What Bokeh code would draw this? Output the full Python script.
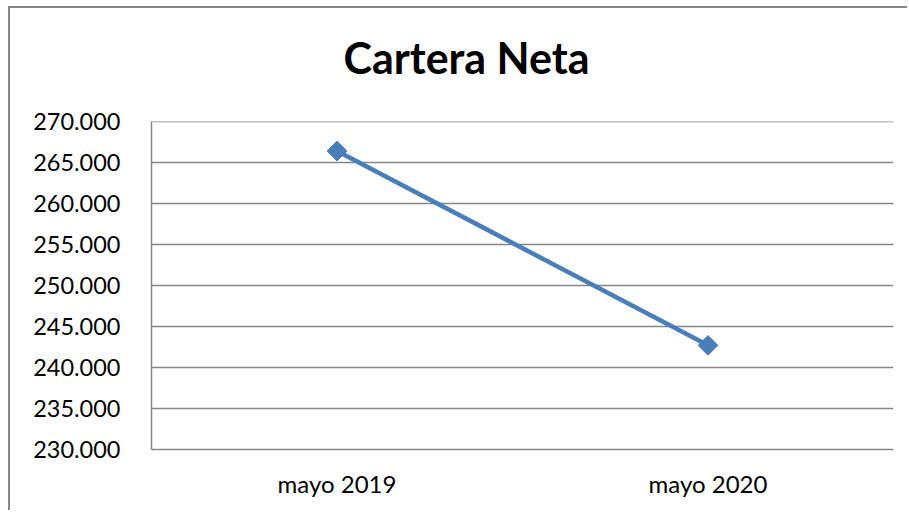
from bokeh.plotting import figure
from bokeh.embed import file_html
from bokeh.resources import INLINE
from bokeh.models import FactorRange, Range1d, FixedTicker, ColumnDataSource, Span, Title
import math

categories = ["mayo 2019", "mayo 2020"]
values = [266400, 242700]
y_ticks = [230000, 235000, 240000, 245000, 250000, 255000, 260000, 265000, 270000]
y_tick_labels = ["230.000", "235.000", "240.000", "245.000", "250.000",
                 "255.000", "260.000", "265.000", "270.000"]
title_text = "Cartera Neta"

src = ColumnDataSource(dict(x=categories, y=values))

p = figure(width=899, height=504, x_range=FactorRange(*categories, range_padding=0),
           y_range=Range1d(y_ticks[0], y_ticks[-1]), output_backend="svg",
           toolbar_location=None, title=title_text)
p.min_border_left = 141
p.min_border_right = 16
p.min_border_top = 113
p.min_border_bottom = 63
p.outline_line_color = None
p.background_fill_color = "white"
p.border_fill_color = "white"
p.styles = {"border-left": "2px solid #868686", "border-top": "2px solid #868686",
            "margin-left": "8px", "margin-top": "6px"}

p.title.text_font = "Lato"
p.title.text_font_style = "bold"
p.title.text_font_size = "43px"
p.title.align = "left"
p.title.offset = 192
p.title.text_color = "black"
p.title.standoff = 10
# blank spacer between title and plot area
p.add_layout(Title(text=" ", text_font_size="1px", standoff=31), "above")

p.xgrid.visible = False
p.ygrid.grid_line_color = "#868686"
p.ygrid.grid_line_width = 1.5
p.yaxis.ticker = FixedTicker(ticks=y_ticks)
p.yaxis.major_label_overrides = {t: l for t, l in zip(y_ticks, y_tick_labels)}
p.add_layout(Span(location=y_ticks[-1], dimension="width",
                  line_color="#868686", line_width=1.5))

for ax in (p.xaxis[0], p.yaxis[0]):
    ax.axis_line_color = "#868686"
    ax.axis_line_width = 1.5
    ax.major_tick_line_color = None
    ax.minor_tick_line_color = None
    ax.major_label_text_font = "Lato"
    ax.major_label_text_color = "black"
p.yaxis.major_label_text_font_size = "23.5px"
p.xaxis.major_label_text_font_size = "24px"
p.yaxis.major_label_standoff = 25
p.xaxis.major_label_standoff = 13

p.line("x", "y", source=src, line_color="#4A7EBB", line_width=4.5)
p.scatter("x", "y", source=src, marker="square", size=14, angle=math.pi / 4,
          fill_color="#4A7EBB", line_color="#4A7EBB")

open("out.html", "w").write(file_html(p, INLINE))
